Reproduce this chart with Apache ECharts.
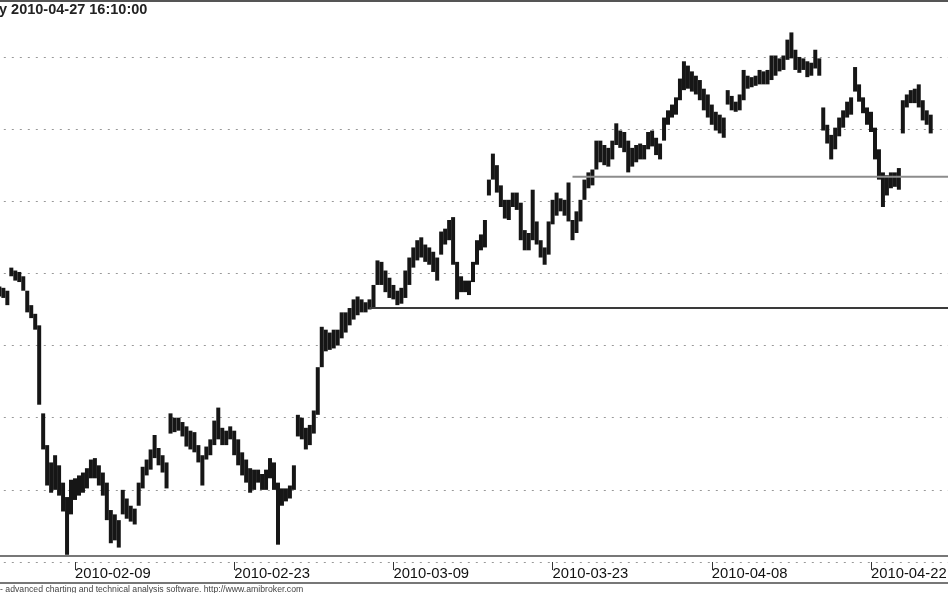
<!DOCTYPE html>
<html>
<head>
<meta charset="utf-8">
<script src="https://cdn.jsdelivr.net/npm/echarts@6/dist/echarts.min.js"></script>
<style>
  html, body { margin: 0; padding: 0; background: #fff; }
  #chart { width: 948px; height: 593px; }
</style>
</head>
<body>
<div id="chart"></div>
<script>
// trading sessions shown (4 intraday bars each)
const sessions = [
    '2010-02-02', '2010-02-03', '2010-02-04', '2010-02-05', '2010-02-08',
    '2010-02-09', '2010-02-10', '2010-02-11', '2010-02-12', '2010-02-15',
    '2010-02-16', '2010-02-17', '2010-02-18', '2010-02-19', '2010-02-22',
    '2010-02-23', '2010-02-24', '2010-02-25', '2010-02-26', '2010-03-01',
    '2010-03-02', '2010-03-03', '2010-03-04', '2010-03-05', '2010-03-08',
    '2010-03-09', '2010-03-10', '2010-03-11', '2010-03-12', '2010-03-15',
    '2010-03-16', '2010-03-17', '2010-03-18', '2010-03-19', '2010-03-22',
    '2010-03-23', '2010-03-24', '2010-03-25', '2010-03-26', '2010-03-29',
    '2010-03-30', '2010-03-31', '2010-04-01', '2010-04-06', '2010-04-07',
    '2010-04-08', '2010-04-09', '2010-04-12', '2010-04-13', '2010-04-14',
    '2010-04-15', '2010-04-16', '2010-04-19', '2010-04-20', '2010-04-21',
    '2010-04-22', '2010-04-23', '2010-04-26', '2010-04-27'
];

const highs = [
    2392, 2391, 2390, 2388,   2404, 2402, 2401, 2398,   2388, 2378, 2372, 2364,
    2303, 2281, 2269, 2274,   2267, 2255, 2245, 2257,   2258, 2260, 2262, 2265,
    2271, 2272, 2267, 2262,   2255, 2236, 2233, 2229,   2250, 2244, 2239, 2237,
    2255, 2266, 2271, 2278,   2288, 2279, 2274, 2269,   2303, 2300, 2300, 2297,
    2294, 2291, 2290, 2281,   2274, 2280, 2285, 2298,   2307, 2293, 2291, 2294,
    2291, 2285, 2276, 2271,   2265, 2264, 2264, 2261,   2264, 2272, 2269, 2255,
    2251, 2251, 2253, 2267,   2302, 2300, 2293, 2295,   2305, 2335, 2363, 2361,
    2359, 2361, 2361, 2373,   2373, 2376, 2382, 2384,   2382, 2380, 2382, 2392,
    2409, 2408, 2402, 2397,   2392, 2388, 2390, 2402,   2411, 2418, 2423, 2425,
    2420, 2418, 2415, 2411,   2429, 2431, 2437, 2439,   2408, 2398, 2395, 2395,
    2408, 2423, 2427, 2437,   2465, 2483, 2475, 2461,   2451, 2451, 2456, 2456,
    2449, 2430, 2428, 2458,   2436, 2423, 2418, 2436,   2451, 2456, 2452, 2451,
    2463, 2437, 2443, 2451,   2465, 2470, 2472, 2492,   2492, 2489, 2487, 2492,
    2504, 2499, 2498, 2492,   2487, 2489, 2490, 2489,   2498, 2499, 2494, 2490,
    2508, 2513, 2517, 2522,   2535, 2547, 2544, 2540,   2537, 2534, 2528, 2524,
    2517, 2512, 2510, 2508,   2527, 2523, 2519, 2524,   2541, 2537, 2536, 2537,
    2541, 2540, 2541, 2551,   2551, 2549, 2551, 2562,   2567, 2555, 2550, 2549,
    2547, 2546, 2555, 2549,   2515, 2503, 2496, 2501,   2508, 2513, 2519, 2522,
    2543, 2531, 2522, 2515,   2512, 2501, 2486, 2470,   2468, 2470, 2470, 2473,
    2520, 2524, 2527, 2528,   2531, 2520, 2513, 2510
];

const lows = [
    2383, 2384, 2383, 2378,   2398, 2395, 2394, 2388,   2373, 2369, 2361, 2309,
    2278, 2253, 2248, 2250,   2246, 2235, 2205, 2233,   2243, 2246, 2248, 2251,
    2258, 2258, 2253, 2246,   2229, 2213, 2215, 2210,   2233, 2230, 2228, 2226,
    2239, 2251, 2260, 2264,   2272, 2267, 2262, 2251,   2289, 2290, 2291, 2287,
    2280, 2278, 2276, 2269,   2253, 2271, 2274, 2281,   2285, 2281, 2281, 2285,
    2274, 2267, 2260, 2255,   2248, 2250, 2255, 2250,   2250, 2258, 2250, 2212,
    2239, 2242, 2244, 2250,   2287, 2285, 2278, 2281,   2289, 2302, 2335, 2346,
    2347, 2348, 2350, 2355,   2359, 2364, 2368, 2371,   2373, 2373, 2375, 2376,
    2392, 2392, 2387, 2383,   2382, 2378, 2379, 2383,   2392, 2404, 2409, 2411,
    2408, 2406, 2401, 2395,   2413, 2420, 2423, 2406,   2382, 2387, 2387, 2385,
    2394, 2406, 2416, 2418,   2454, 2465, 2456, 2446,   2438, 2437, 2446, 2444,
    2423, 2416, 2416, 2423,   2420, 2411, 2406, 2413,   2434, 2440, 2443, 2440,
    2436, 2423, 2428, 2436,   2451, 2459, 2461, 2472,   2477, 2475, 2474, 2479,
    2489, 2487, 2484, 2470,   2474, 2477, 2479, 2479,   2486, 2488, 2482, 2479,
    2492, 2503, 2508, 2510,   2520, 2527, 2528, 2526,   2524, 2520, 2513, 2508,
    2503, 2499, 2497, 2494,   2517, 2513, 2512, 2513,   2520, 2528, 2529, 2530,
    2531, 2531, 2531, 2534,   2537, 2540, 2541, 2548,   2549, 2541, 2539, 2541,
    2536, 2537, 2542, 2537,   2499, 2490, 2479, 2486,   2495, 2501, 2508, 2510,
    2526, 2519, 2511, 2503,   2498, 2479, 2465, 2446,   2454, 2459, 2460, 2458,
    2497, 2515, 2518, 2518,   2515, 2506, 2503, 2497
];

const tickDates = ['2010-02-09', '2010-02-23', '2010-03-09', '2010-03-23', '2010-04-08', '2010-04-22'];

// horizontal study lines: start (session offset from 2010-02-09) and price
const levelStart = [18.5, 31.25];
const levelPrice = [2376, 2467];

const base = sessions.indexOf('2010-02-09');
const bars = highs.map((h, i) => [Math.floor(i / 4) - base + (i % 4) * 0.25, lows[i], h]);

const chart = echarts.init(document.getElementById('chart'));

const option = {
    animation: false,
    grid: {
        left: -84.2, right: -82.2, top: -15.2, bottom: 31,
        containLabel: false,
        outerBoundsMode: 'none'
    },
    xAxis: {
        type: 'value',
        min: -10,
        max: 60,
        interval: 10,
        axisLine: { show: false },
        axisTick: { length: 8, lineStyle: { color: '#333' } },
        axisLabel: {
            align: 'left',
            margin: 4,
            color: '#111',
            fontSize: 14.8,
            fontFamily: 'Liberation Sans',
            formatter: v => {
                const d = sessions[v + base];
                return tickDates.includes(d) ? d : '';
            }
        },
        splitLine: { show: false }
    },
    yAxis: {
        type: 'value',
        min: 2200,
        max: 2600,
        interval: 50,
        axisLabel: { show: false },
        axisLine: { show: false },
        axisTick: { show: false },
        splitLine: { lineStyle: { type: [2, 6], color: '#999', width: 1 } }
    },
    series: [
        {
            type: 'custom',
            data: bars,
            renderItem: (params, api) => {
                const x = api.value(0);
                const top = api.coord([x, api.value(2)]);
                const bot = api.coord([x, api.value(1)]);
                return {
                    type: 'rect',
                    shape: { x: top[0] - 2, y: top[1], width: 4, height: Math.max(bot[1] - top[1], 1) },
                    style: { fill: '#161616' }
                };
            }
        },
        {
            type: 'line',
            symbol: 'none',
            data: [[levelStart[0], levelPrice[0]], [60, levelPrice[0]]],
            lineStyle: { color: '#3a3a3a', width: 2 }
        },
        {
            type: 'line',
            symbol: 'none',
            data: [[levelStart[1], levelPrice[1]], [60, levelPrice[1]]],
            lineStyle: { color: '#8c8c8c', width: 2 }
        }
    ],
    graphic: [
        { type: 'rect', shape: { x: 0, y: 0, width: 948, height: 2 }, style: { fill: '#555' } },
        { type: 'rect', shape: { x: 0, y: 555, width: 948, height: 2 }, style: { fill: '#777' } },
        { type: 'rect', shape: { x: 0, y: 582, width: 948, height: 2 }, style: { fill: '#777' } },
        {
            type: 'text', left: -1, top: 2,
            style: { text: 'y 2010-04-27 16:10:00', font: 'bold 14.5px "Liberation Sans"', fill: '#222' }
        },
        {
            type: 'text', left: 0, top: 585,
            style: { text: '- advanced charting and technical analysis software. http://www.amibroker.com', font: '8.7px "Liberation Sans"', fill: '#444' }
        }
    ]
};

chart.setOption(option);
</script>
</body>
</html>
